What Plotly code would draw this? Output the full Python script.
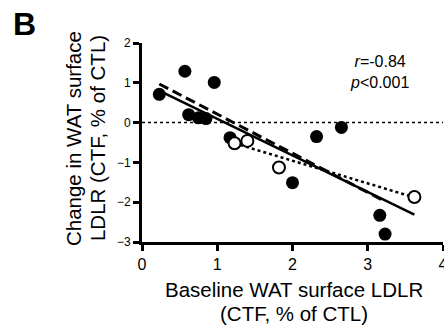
import plotly.graph_objects as go

# Data
filled_x = [0.23, 0.57, 0.96, 0.62, 0.75, 0.85, 1.17, 2.32, 2.65, 2.00, 3.16, 3.23]
filled_y = [0.71, 1.29, 1.01, 0.20, 0.12, 0.10, -0.38, -0.35, -0.12, -1.51, -2.33, -2.80]
open_x = [1.23, 1.40, 1.82, 3.62]
open_y = [-0.52, -0.46, -1.13, -1.87]

solid_fit_x = [0.20, 3.62]
solid_fit_y = [0.83, -2.31]
dashed_fit_x = [0.23, 3.20]
dashed_fit_y = [0.97, -1.95]
dotted_fit_x = [1.23, 3.62]
dotted_fit_y = [-0.52, -1.88]
zero_x = [0, 4]
zero_y = [0, 0]

x_ticks = [0, 1, 2, 3, 4]
y_ticks = [-3, -2, -1, 0, 1, 2]

y_title_lines = ["Change in WAT surface", "LDLR (CTF, % of CTL)"]
x_title_lines = ["Baseline WAT surface LDLR", "(CTF, % of CTL)"]
stats_text = "<i>r</i>=-0.84<br><i>p</i><0.001"

FONT = "Arial, Liberation Sans, sans-serif"

fig = go.Figure()
fig.add_trace(go.Scatter(x=zero_x, y=zero_y, mode="lines",
                         line=dict(color="black", width=1.5, dash="dot"), hoverinfo="skip"))
fig.add_trace(go.Scatter(x=solid_fit_x, y=solid_fit_y, mode="lines",
                         line=dict(color="black", width=2.5)))
fig.add_trace(go.Scatter(x=dashed_fit_x, y=dashed_fit_y, mode="lines",
                         line=dict(color="black", width=3, dash="10px,5px")))
fig.add_trace(go.Scatter(x=dotted_fit_x, y=dotted_fit_y, mode="lines",
                         line=dict(color="black", width=2.5, dash="dot")))
fig.add_trace(go.Scatter(x=filled_x, y=filled_y, mode="markers",
                         marker=dict(color="black", size=13, line=dict(width=0))))
fig.add_trace(go.Scatter(x=open_x, y=open_y, mode="markers",
                         marker=dict(color="white", size=12, line=dict(color="black", width=2))))

axis_common = dict(showgrid=False, zeroline=False, showline=True, linecolor="black",
                   linewidth=3, ticks="outside", ticklen=6, tickwidth=3, tickcolor="black",
                   ticklabeloverflow="allow", automargin=False)

fig.update_layout(
    width=444, height=332,
    margin=dict(l=142, r=1, t=43, b=90),
    plot_bgcolor="white", paper_bgcolor="white",
    showlegend=False,
    font=dict(family=FONT, color="black"),
    xaxis=dict(range=[0, 4], tickvals=x_ticks, **axis_common,
               tickfont=dict(family=FONT, size=16, color="black")),
    yaxis=dict(range=[-3, 2], tickvals=y_ticks, **axis_common,
               tickfont=dict(family=FONT, size=12, color="black")),
)

# y-axis title lines
for xp, line in zip([-0.2295, -0.1497], y_title_lines):
    fig.add_annotation(xref="paper", yref="paper", x=xp, y=0.522, text=line,
                       textangle=-90, showarrow=False, xanchor="center", yanchor="middle",
                       font=dict(family=FONT, size=20.5, color="black"))

# x-axis title lines
for yp, line in zip([-0.238, -0.359], x_title_lines):
    fig.add_annotation(xref="paper", yref="paper", x=0.505, y=yp, text=line,
                       showarrow=False, xanchor="center", yanchor="middle",
                       font=dict(family=FONT, size=20.5, color="black"))

fig.add_annotation(xref="x", yref="y", x=3.15, y=1.26, text=stats_text, showarrow=False,
                   xanchor="center", yanchor="middle", align="center",
                   font=dict(family=FONT, size=16, color="black"))
fig.add_annotation(xref="paper", yref="paper", x=-0.389, y=1.093, xanchor="center", yanchor="middle",
                   text="<b>B</b>", showarrow=False,
                   font=dict(family=FONT, size=32, color="black"))

fig.write_html("out.html")
